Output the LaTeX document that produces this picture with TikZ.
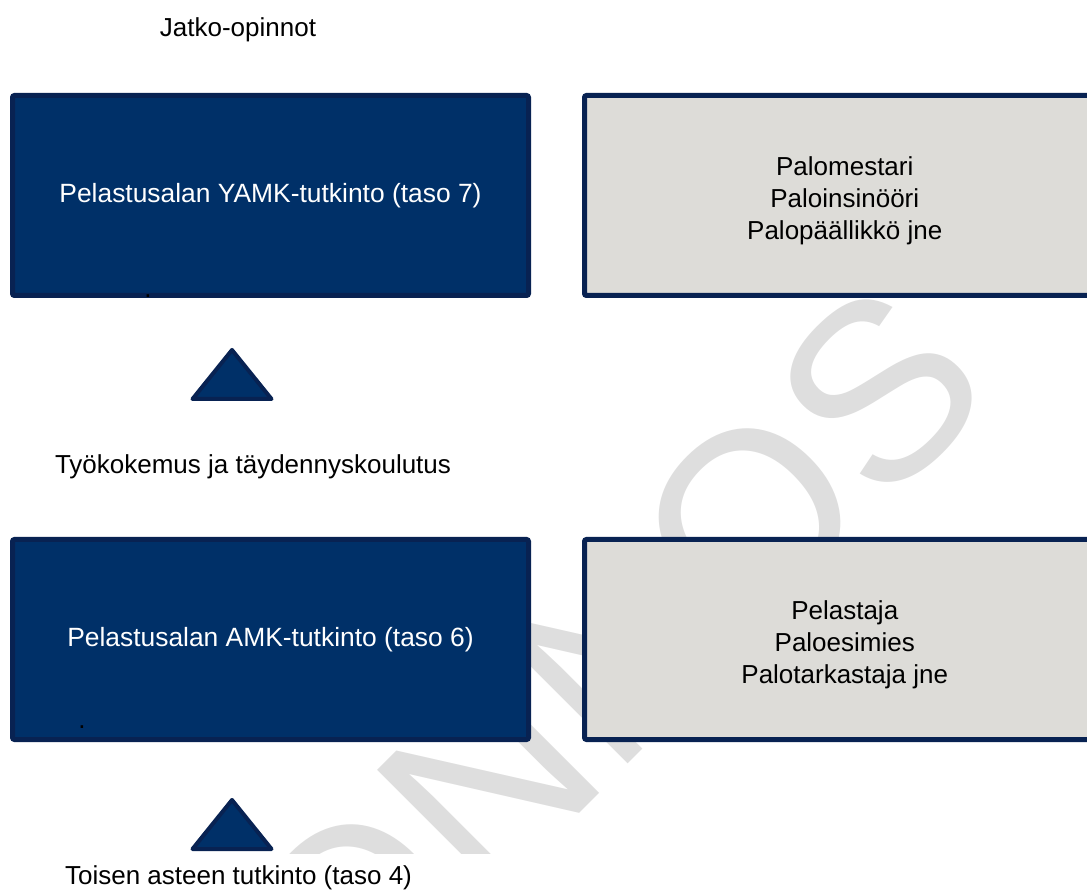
\documentclass[tikz,border=0pt]{standalone}
\usepackage{fontspec}
\setmainfont{Liberation Sans}
\usepackage{tikz}
\definecolor{tutblue}{RGB}{0,48,104}
\definecolor{tutedge}{RGB}{8,34,82}
\definecolor{jobgray}{RGB}{221,220,216}
\definecolor{draftgray}{RGB}{222,222,222}

\tikzset{
  degreebox/.style={draw=tutedge, fill=tutblue, line width=2.5pt, rounded corners=1pt,
    minimum width=258pt, minimum height=100pt, text=white, font=\fontsize{13.2}{15.8}\selectfont},
  jobbox/.style={draw=tutedge, fill=jobgray, line width=2.5pt, rounded corners=1pt,
    minimum width=260.25pt, minimum height=100pt},
  jobtext/.style={align=center, font=\fontsize{13}{16}\selectfont},
  steplabel/.style={anchor=base, font=\fontsize{13}{15.8}\selectfont},
  straydot/.style={anchor=base, inner sep=0pt, font=\fontsize{13}{15.8}\selectfont},
  uptri/.style={draw=tutedge, fill=tutblue, line width=2pt, line join=round},
}

\begin{document}
\begin{tikzpicture}[x=0.5pt, y=-0.5pt]
            \path[use as bounding box] (0,0) rectangle (1087,892);
            \clip (0,0) rectangle (1087,892);

            % Draft watermark
            \begin{scope}
              \clip (0,0) rectangle (1087,853);
              \node[text=draftgray, rotate=45, inner sep=0pt, font=\fontsize{126}{130}\selectfont] (draft) at (498,772) {LUONNOS};
            \end{scope}

            % Top row
            \node[steplabel] (further) at (238,36.5) {Jatko-opinnot};
            \node[degreebox] (yamk) at (270.5,195.5) {Pelastusalan YAMK-tutkinto (taso 7)};
            \node[straydot] (dotyamk) at (148,298) {.};
            \node[jobbox] (jobsyamk) at (844.75,195.5) {};
            \node[jobtext] (jobsyamktext) at ([yshift=-2.5pt]jobsyamk.center) {Palomestari\\Paloinsinööri\\Palopäällikkö jne};

            % Step up 1
            \draw[uptri] (232,350) -- (271.5,399) -- (192.5,399) -- cycle;
            \node[steplabel] (work) at (253,474) {Työkokemus ja täydennyskoulutus};

            % Bottom row
            \node[degreebox] (amk) at (270.5,639.5) {Pelastusalan AMK-tutkinto (taso 6)};
            \node[straydot] (dotamk) at (82,728.5) {.};
            \node[jobbox] (jobsamk) at (844.75,639.5) {};
            \node[jobtext] (jobsamktext) at ([yshift=-2.5pt]jobsamk.center) {Pelastaja\\Paloesimies\\Palotarkastaja jne};

            % Step up 2
            \draw[uptri] (232,800) -- (271.5,849) -- (192.5,849) -- cycle;
            \node[steplabel] (second) at (238.5,884.5) {Toisen asteen tutkinto (taso 4)};
\end{tikzpicture}
\end{document}
